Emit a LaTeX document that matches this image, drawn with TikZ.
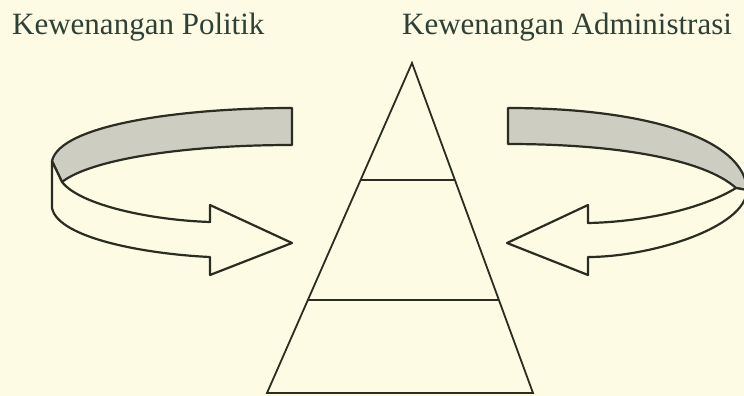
\documentclass[tikz,border=0pt]{standalone}
\usepackage{fontspec}
\setmainfont{Liberation Serif}
\usetikzlibrary{calc}

\definecolor{ink}{HTML}{2B2D22}
\definecolor{labelink}{HTML}{2F4036}
\definecolor{paper}{HTML}{FDFBE3}
\definecolor{backband}{HTML}{CDCDC2}

\begin{document}
\begin{tikzpicture}[
  x=1pt, y=-1pt,
  title/.style  = {font=\fontsize{31}{36}\selectfont, text=labelink,
                   inner sep=0pt, anchor=base west},
  edge/.style   = {draw=ink, line width=1.8pt, line join=miter},
  ribbon/.style = {draw=ink, line width=2.2pt, line join=round},
  behind/.style = {ribbon, fill=backband},
]

% ---- page ------------------------------------------------------------------
\fill[paper] (0,0) rectangle (744,396);
\useasboundingbox (0,0) rectangle (744,396);

% ---- headings --------------------------------------------------------------
\node[title] (politik) at (12,35)  {Kewenangan Politik};
\node[title] (admin)   at (402,35) {Kewenangan Administrasi};

% ---- pyramid ---------------------------------------------------------------
\coordinate (apex) at (412,63);
\coordinate (bl)   at (267,393);
\coordinate (br)   at (533,393);
\coordinate (ul) at ($(apex)!0.3545!(bl)$);
\coordinate (ur) at ($(apex)!0.3545!(br)$);
\coordinate (ll) at ($(apex)!0.718!(bl)$);
\coordinate (lr) at ($(apex)!0.718!(br)$);

\draw[edge] (apex) -- (bl) -- (br) -- cycle;
\draw[edge] (ul) -- (ur);
\draw[edge] (ll) -- (lr);

% ---- left ribbon arrow -----------------------------------------------------
\coordinate (lt) at (292,108);
\coordinate (li) at (292,145);
\coordinate (lf) at (62,182);
\coordinate (lo) at (52,161);
\coordinate (ltip) at (292,243);

\path[behind] (lt) -- (li) .. controls (180,145) and (90,160) .. (lf)
  -- (lo) .. controls (60,125) and (180,108) .. cycle;
\path[ribbon, fill=paper] (lo) -- (52,208) .. controls (58,238) and (145,254) .. (210,257)
  -- (210,275) -- (ltip) -- (210,205) -- (210,222)
  .. controls (150,220) and (80,205) .. (lf) -- cycle;

% ---- right ribbon arrow ----------------------------------------------------
\coordinate (rt) at (508,108);
\coordinate (ri) at (508,144);
\coordinate (rf) at (736,188);
\coordinate (ro) at (747,190);
\coordinate (rtip) at (507,243);

\path[behind] (rt) -- (ri) .. controls (620,144) and (705,160) .. (rf)
  -- (ro) .. controls (745,140) and (650,108) .. cycle;
\path[ribbon, fill=paper] (ro) .. controls (746,228) and (650,257) .. (588,257)
  -- (588,275) -- (rtip) -- (588,205) -- (588,223)
  .. controls (640,222) and (700,210) .. (rf) -- cycle;

\end{tikzpicture}
\end{document}
